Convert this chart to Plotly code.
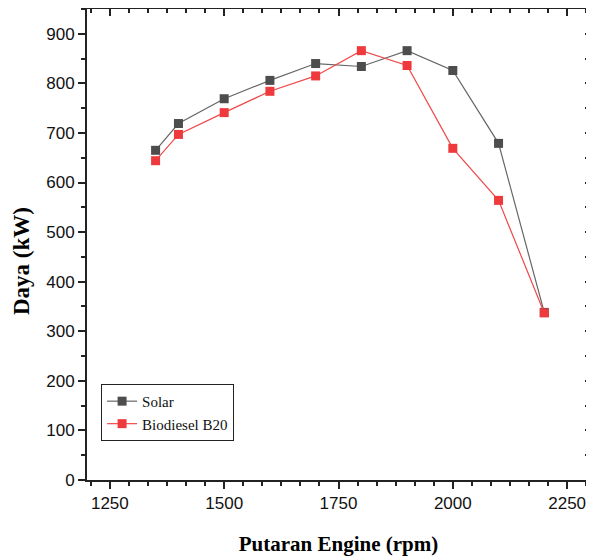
import plotly.graph_objects as go

rpm = [1350, 1400, 1500, 1600, 1700, 1800, 1900, 2000, 2100, 2200]
solar = [665, 719, 769, 806, 840, 834, 866, 826, 679, 338]
b20 = [644, 697, 741, 784, 815, 866, 836, 669, 564, 337]

fig = go.Figure()
fig.add_trace(go.Scatter(x=rpm, y=solar, name="Solar", mode="lines+markers",
                         line=dict(color="#666666", width=1.2),
                         marker=dict(symbol="square", size=9, color="#4d4d4d")))
fig.add_trace(go.Scatter(x=rpm, y=b20, name="Biodiesel B20", mode="lines+markers",
                         line=dict(color="#f04848", width=1.2),
                         marker=dict(symbol="square", size=9, color="#ee3a3d")))
# invisible trace to carry the mirrored top/right axes
fig.add_trace(go.Scatter(x=[1200], y=[0], xaxis="x2", yaxis="y2", mode="markers",
                         marker=dict(opacity=0), showlegend=False, hoverinfo="skip"))

tickfont = dict(family="Liberation Sans, Arial", size=17, color="#111")
titlefont = dict(family="Liberation Serif, Times New Roman", size=21, color="#000")
ytitlefont = dict(family="Liberation Serif, Times New Roman", size=23, color="#000")

# page body has an 8px default margin, so the figure is sized/margined to compensate
fig.update_layout(
    width=586, height=548,
    margin=dict(l=79, r=4, t=1, b=76, autoexpand=False),
    paper_bgcolor="white", plot_bgcolor="white",
    xaxis=dict(range=[1200, 2300], tickvals=[1250, 1500, 1750, 2000, 2250],
               ticks="outside", ticklen=7, tickwidth=1.5, tickcolor="#222",
               minor=dict(tick0=1250, dtick=250/6, ticks="outside", ticklen=4, tickcolor="#222"),
               showline=True, linewidth=2, linecolor="#222", mirror=True,
               showgrid=False, zeroline=False, tickfont=tickfont, automargin=False,
               title=dict(text="<b>Putaran Engine (rpm)</b>", font=titlefont, standoff=25)),
    yaxis=dict(range=[0, 950], tickvals=list(range(0, 901, 100)),
               ticks="outside", ticklen=7, tickwidth=1.5, tickcolor="#222",
               minor=dict(tick0=0, dtick=50, ticks="outside", ticklen=4, tickcolor="#222"),
               showline=True, linewidth=2, linecolor="#222", mirror=True,
               showgrid=False, zeroline=False, tickfont=tickfont, automargin=False),
    xaxis2=dict(range=[1200, 2300], overlaying="x", side="top", anchor="y2",
                tickvals=[1250, 1500, 1750, 2000, 2250], showticklabels=False,
                ticks="inside", ticklen=7, tickwidth=1.5, tickcolor="#222",
                minor=dict(tick0=1250, dtick=250/6, ticks="inside", ticklen=4, tickcolor="#222"),
                showgrid=False, zeroline=False, showline=False, automargin=False),
    yaxis2=dict(range=[0, 950], overlaying="y", side="right", anchor="x2",
                tickvals=list(range(0, 901, 100)), showticklabels=False,
                ticks="inside", ticklen=5, tickwidth=1.5, tickcolor="#222",
                minor=dict(tick0=0, dtick=50, ticks="inside", ticklen=5, tickcolor="#222"),
                showgrid=False, zeroline=False, showline=False, automargin=False),
    legend=dict(x=0.028, y=0.204, xanchor="left", yanchor="top",
                bgcolor="white", bordercolor="#222", borderwidth=1,
                font=dict(family="Liberation Serif, Times New Roman", size=15, color="#111"),
                tracegroupgap=0, itemwidth=30),
    showlegend=True,
    annotations=[dict(text="<b>Daya (kW)</b>", font=ytitlefont, textangle=-90,
                      xref="paper", yref="paper", x=-0.129, y=0.465,
                      xanchor="center", yanchor="middle", showarrow=False,
                      borderpad=0)],
)

fig.write_html("out.html")
